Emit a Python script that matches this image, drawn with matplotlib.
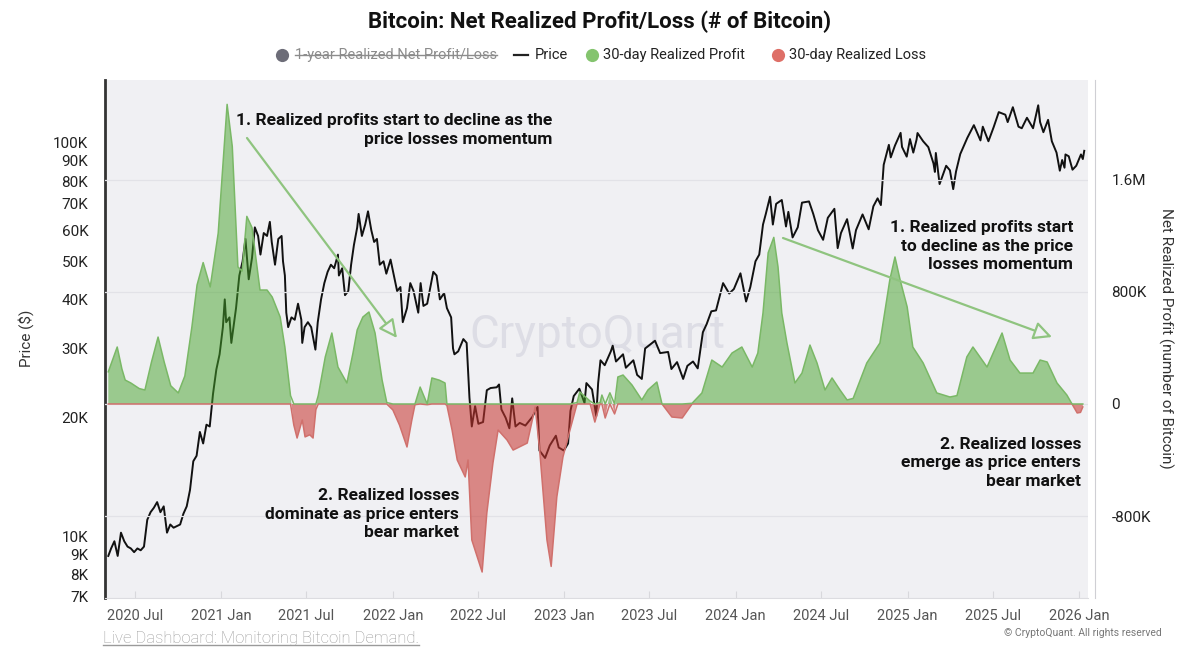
import numpy as np
import pandas as pd
import matplotlib
matplotlib.use("Agg")
import matplotlib.pyplot as plt
from matplotlib.lines import Line2D

plt.rcParams["font.family"] = ["Roboto", "DejaVu Sans"]

# ── Data ──────────────────────────────────────────────────────────────────────
price_dates = [
    "2020-05-05", "2020-05-11", "2020-05-18", "2020-05-25", "2020-06-01", "2020-06-08",
    "2020-06-15", "2020-06-22", "2020-06-29", "2020-07-06", "2020-07-13", "2020-07-20",
    "2020-07-27", "2020-08-03", "2020-08-10", "2020-08-17", "2020-08-24", "2020-08-31",
    "2020-09-07", "2020-09-14", "2020-09-21", "2020-09-28", "2020-10-05", "2020-10-12",
    "2020-10-19", "2020-10-26", "2020-11-02", "2020-11-09", "2020-11-16", "2020-11-23",
    "2020-11-30", "2020-12-07", "2020-12-14", "2020-12-21", "2020-12-28", "2021-01-04",
    "2021-01-08", "2021-01-11", "2021-01-18", "2021-01-22", "2021-01-25", "2021-02-01",
    "2021-02-08", "2021-02-15", "2021-02-21", "2021-02-28", "2021-03-07", "2021-03-13",
    "2021-03-20", "2021-03-25", "2021-04-01", "2021-04-08", "2021-04-14", "2021-04-18",
    "2021-04-25", "2021-05-02", "2021-05-09", "2021-05-12", "2021-05-16", "2021-05-19",
    "2021-05-23", "2021-05-30", "2021-06-06", "2021-06-13", "2021-06-20", "2021-06-22",
    "2021-06-27", "2021-07-04", "2021-07-11", "2021-07-20", "2021-07-25", "2021-08-01",
    "2021-08-08", "2021-08-15", "2021-08-22", "2021-08-29", "2021-09-06", "2021-09-08",
    "2021-09-15", "2021-09-21", "2021-09-28", "2021-10-04", "2021-10-10", "2021-10-17",
    "2021-10-20", "2021-10-27", "2021-11-03", "2021-11-09", "2021-11-16", "2021-11-22",
    "2021-11-28", "2021-12-04", "2021-12-12", "2021-12-18", "2021-12-27", "2022-01-03",
    "2022-01-10", "2022-01-17", "2022-01-22", "2022-01-31", "2022-02-07", "2022-02-14",
    "2022-02-24", "2022-03-01", "2022-03-07", "2022-03-15", "2022-03-28", "2022-04-04",
    "2022-04-11", "2022-04-20", "2022-04-26", "2022-05-05", "2022-05-09", "2022-05-12",
    "2022-05-20", "2022-05-31", "2022-06-07", "2022-06-13", "2022-06-18", "2022-06-25",
    "2022-07-02", "2022-07-12", "2022-07-20", "2022-07-28", "2022-08-10", "2022-08-15",
    "2022-08-20", "2022-08-29", "2022-09-06", "2022-09-12", "2022-09-19", "2022-09-28",
    "2022-10-10", "2022-10-25", "2022-11-05", "2022-11-09", "2022-11-21", "2022-12-01",
    "2022-12-14", "2022-12-20", "2022-12-31", "2023-01-09", "2023-01-14", "2023-01-21",
    "2023-02-02", "2023-02-13", "2023-02-17", "2023-03-01", "2023-03-10", "2023-03-14",
    "2023-03-19", "2023-03-28", "2023-04-10", "2023-04-14", "2023-04-21", "2023-05-06",
    "2023-05-12", "2023-05-28", "2023-06-05", "2023-06-15", "2023-06-22", "2023-07-13",
    "2023-07-24", "2023-08-10", "2023-08-17", "2023-08-29", "2023-09-11", "2023-09-20",
    "2023-10-02", "2023-10-12", "2023-10-23", "2023-10-31", "2023-11-10", "2023-11-20",
    "2023-12-05", "2023-12-18", "2023-12-28", "2024-01-11", "2024-01-23", "2024-02-01",
    "2024-02-12", "2024-02-20", "2024-02-28", "2024-03-05", "2024-03-14", "2024-03-20",
    "2024-03-27", "2024-04-08", "2024-04-17", "2024-04-22", "2024-05-01", "2024-05-12",
    "2024-05-21", "2024-06-05", "2024-06-14", "2024-06-24", "2024-07-05", "2024-07-15",
    "2024-07-29", "2024-08-05", "2024-08-12", "2024-08-25", "2024-09-06", "2024-09-13",
    "2024-09-27", "2024-10-10", "2024-10-20", "2024-10-29", "2024-11-05", "2024-11-11",
    "2024-11-22", "2024-11-26", "2024-12-05", "2024-12-17", "2024-12-20", "2024-12-30",
    "2025-01-06", "2025-01-13", "2025-01-20", "2025-01-22", "2025-02-03", "2025-02-14",
    "2025-02-25", "2025-02-28", "2025-03-02", "2025-03-10", "2025-03-24", "2025-04-01",
    "2025-04-08", "2025-04-14", "2025-04-23", "2025-05-08", "2025-05-22", "2025-06-05",
    "2025-06-10", "2025-06-22", "2025-07-03", "2025-07-14", "2025-07-28", "2025-08-02",
    "2025-08-13", "2025-08-25", "2025-09-01", "2025-09-12", "2025-09-25", "2025-10-06",
    "2025-10-10", "2025-10-17", "2025-10-27", "2025-11-04", "2025-11-14", "2025-11-21",
    "2025-11-26", "2025-12-01", "2025-12-03", "2025-12-10", "2025-12-18", "2025-12-26",
    "2026-01-05", "2026-01-09", "2026-01-12",
]
price_k = [
    8.9, 9.3, 9.7, 8.9, 10.2, 9.7,
    9.4, 9.3, 9.1, 9.3, 9.2, 9.4,
    11.0, 11.5, 11.8, 12.2, 11.5, 11.9,
    10.2, 10.7, 10.5, 10.6, 10.7, 11.4,
    11.9, 13.1, 15.5, 16.0, 18.4, 17.2,
    19.2, 19.0, 23.0, 26.5, 29.0, 34.0,
    40.0, 35.0, 36.0, 31.0, 33.0, 38.0,
    46.0, 50.0, 57.0, 45.0, 51.0, 61.0,
    58.0, 52.0, 59.0, 58.0, 63.0, 56.0,
    49.0, 57.0, 58.0, 50.0, 46.0, 37.0,
    34.0, 36.0, 35.5, 39.0, 35.5, 31.0,
    34.0, 35.0, 34.0, 29.8, 35.0, 40.0,
    44.0, 47.0, 49.0, 48.0, 52.0, 46.0,
    48.0, 41.0, 42.0, 49.0, 55.0, 61.0,
    66.0, 58.0, 62.0, 67.0, 60.0, 56.0,
    57.0, 49.0, 50.0, 46.5, 50.5, 46.0,
    42.0, 43.0, 35.0, 38.0, 44.0, 42.0,
    37.0, 44.0, 38.5, 39.0, 47.0, 46.0,
    40.0, 41.5, 38.0, 36.0, 30.0, 29.0,
    29.5, 31.7, 31.0, 22.5, 19.0, 21.4,
    19.3, 19.5, 23.5, 23.8, 23.9, 24.3,
    21.0, 20.0, 18.8, 22.4, 19.0, 19.4,
    19.1, 20.1, 21.3, 16.5, 15.8, 17.0,
    18.0, 16.8, 16.5, 17.2, 20.8, 22.7,
    23.7, 21.8, 24.5, 23.6, 20.2, 24.5,
    28.0, 27.2, 29.5, 30.5, 27.8, 29.0,
    26.8, 28.0, 25.7, 25.1, 30.0, 31.4,
    29.2, 29.4, 26.6, 27.7, 25.1, 27.1,
    27.8, 26.7, 33.0, 34.6, 37.3, 37.5,
    44.0, 41.4, 42.5, 46.6, 39.5, 43.0,
    50.0, 52.0, 62.0, 66.0, 73.0, 62.0,
    70.0, 71.6, 61.3, 66.8, 57.5, 61.0,
    70.5, 71.0, 66.0, 60.0, 56.7, 64.5,
    68.0, 54.0, 59.0, 64.0, 53.9, 60.0,
    65.8, 60.3, 69.0, 72.3, 69.5, 88.0,
    98.9, 91.9, 98.5, 106.1, 97.7, 92.3,
    102.3, 94.5, 102.0, 106.0, 101.0, 97.6,
    88.7, 84.4, 94.3, 78.6, 87.5, 85.2,
    76.3, 84.6, 93.7, 103.0, 111.0, 101.5,
    110.0, 101.0, 109.6, 119.8, 118.0, 113.0,
    123.3, 110.0, 109.0, 115.9, 109.0, 124.7,
    113.0, 106.5, 114.5, 101.0, 94.5, 85.0,
    90.5, 86.5, 93.5, 92.5, 85.5, 87.5,
    93.5, 91.0, 95.5,
]

# 30-day net realized profit (+) / loss (-), thousands of BTC
pnl_dates = [
    "2020-05-05", "2020-05-24", "2020-06-03", "2020-06-10", "2020-06-22", "2020-07-01",
    "2020-07-10", "2020-07-22", "2020-08-05", "2020-08-19", "2020-09-01", "2020-09-15",
    "2020-10-01", "2020-10-15", "2020-10-30", "2020-11-10", "2020-11-23", "2020-12-08",
    "2020-12-25", "2021-01-06", "2021-01-13", "2021-01-24", "2021-02-05", "2021-02-14",
    "2021-02-24", "2021-03-07", "2021-03-24", "2021-04-08", "2021-04-19", "2021-05-06",
    "2021-05-16", "2021-05-28", "2021-06-04", "2021-06-11", "2021-06-22", "2021-06-28",
    "2021-07-08", "2021-07-15", "2021-07-21", "2021-07-26", "2021-08-10", "2021-08-24",
    "2021-09-06", "2021-09-25", "2021-10-08", "2021-10-17", "2021-10-29", "2021-11-11",
    "2021-11-24", "2021-12-09", "2021-12-19", "2022-01-01", "2022-01-15", "2022-01-31",
    "2022-02-10", "2022-02-17", "2022-02-28", "2022-03-15", "2022-03-25", "2022-04-10",
    "2022-04-22", "2022-04-26", "2022-05-07", "2022-05-18", "2022-06-04", "2022-06-10",
    "2022-06-18", "2022-07-10", "2022-07-20", "2022-08-02", "2022-08-13", "2022-09-01",
    "2022-09-14", "2022-10-14", "2022-10-31", "2022-11-10", "2022-11-25", "2022-12-04",
    "2022-12-16", "2022-12-29", "2023-01-13", "2023-01-28", "2023-02-03", "2023-02-25",
    "2023-03-07", "2023-03-18", "2023-03-22", "2023-03-29", "2023-04-08", "2023-04-18",
    "2023-04-25", "2023-05-06", "2023-05-25", "2023-06-15", "2023-06-28", "2023-07-17",
    "2023-07-28", "2023-08-18", "2023-09-09", "2023-09-30", "2023-10-21", "2023-11-11",
    "2023-12-03", "2023-12-24", "2024-01-14", "2024-02-05", "2024-02-17", "2024-02-28",
    "2024-03-10", "2024-03-22", "2024-03-31", "2024-04-08", "2024-04-19", "2024-05-06",
    "2024-05-21", "2024-06-07", "2024-06-22", "2024-07-09", "2024-07-24", "2024-08-10",
    "2024-08-25", "2024-09-07", "2024-10-06", "2024-11-03", "2024-11-24", "2024-12-05",
    "2024-12-16", "2024-12-31", "2025-01-12", "2025-02-03", "2025-03-04", "2025-04-01",
    "2025-04-16", "2025-05-07", "2025-05-20", "2025-06-19", "2025-07-21", "2025-08-07",
    "2025-08-28", "2025-09-25", "2025-10-10", "2025-10-25", "2025-11-15", "2025-12-06",
    "2025-12-17", "2025-12-28", "2026-01-04", "2026-01-09",
]
pnl_k = [
    230, 407, 250, 171, 150, 130,
    110, 100, 300, 478, 300, 130,
    79, 200, 550, 850, 1010, 836,
    1220, 1800, 2140, 1840, 979, 950,
    1340, 1260, 814, 814, 764, 621,
    407, 60, -150, -243, -114, -235,
    -220, -243, -40, 60, 336, 507,
    264, 150, 364, 529, 621, 657,
    507, 171, 10, -43, -150, -307,
    -120, -5, 121, -5, 186, 170,
    150, -10, -186, -400, -521, -400,
    -971, -1200, -778, -421, -186, -257,
    -329, -279, -21, -350, -971, -1160,
    -664, -379, -186, 10, 86, 20,
    -129, 10, 64, -100, 80, -71,
    193, 207, 136, 29, 100, 157,
    0, -93, -100, 5, 79, 314,
    264, 364, 407, 264, 364, 650,
    1080, 1190, 979, 650, 436, 150,
    221, 421, 293, 100, 186, 100,
    29, 40, 293, 436, 886, 1050,
    886, 693, 407, 293, 79, 50,
    60, 336, 407, 264, 507, 314,
    221, 221, 314, 300, 150, 64,
    0, -64, -60, -21,
]

price_ticks = [7, 8, 9, 10, 20, 30, 40, 50, 60, 70, 80, 90, 100]
price_tick_labels = ["7K", "8K", "9K", "10K", "20K", "30K", "40K", "50K",
                     "60K", "70K", "80K", "90K", "100K"]
pnl_ticks = [-800, 0, 800, 1600]
pnl_tick_labels = ["-800K", "0", "800K", "1.6M"]
month_ticks = ["2020-07-01", "2021-01-01", "2021-07-01", "2022-01-01", "2022-07-01",
               "2023-01-01", "2023-07-01", "2024-01-01", "2024-07-01", "2025-01-01",
               "2025-07-01", "2026-01-01"]
month_tick_labels = ["2020 Jul", "2021 Jan", "2021 Jul", "2022 Jan", "2022 Jul",
                     "2023 Jan", "2023 Jul", "2024 Jan", "2024 Jul", "2025 Jan",
                     "2025 Jul", "2026 Jan"]

# ── Styling ──────────────────────────────────────────────────────────────────
BG = "#f0f0f3"
GREEN_FILL = "#46a42a"
GREEN_LINE = "#7ab866"
RED_FILL = "#c7352f"
RED_LINE = "#d0706c"
ARROW = "#8fc47f"

W, H = 1200, 664
fig = plt.figure(figsize=(W / 100, H / 100), dpi=100)
fig.patch.set_facecolor("white")

def fx(px):
    return px / W

def fy(py):
    return 1 - py / H

ax_l, ax_r, ax_t, ax_b = 105, 1088, 80, 597.5
ax = fig.add_axes([fx(ax_l), fy(ax_b), fx(ax_r - ax_l), (ax_b - ax_t) / H])
ax.set_facecolor(BG)
ax2 = ax.twinx()          # net realized profit/loss, drawn over the price line
ax2.patch.set_visible(False)

p_dates = pd.to_datetime(price_dates)
p_vals = np.array(price_k)
n_dates = pd.to_datetime(pnl_dates)
n_vals = np.array(pnl_k, dtype=float)

# price (left axis, log)
ax.text(0.5005, 0.507, "CryptoQuant", transform=ax.transAxes, ha="center",
        va="center", fontsize=33, color="#dddde5", zorder=1)
ax.plot(p_dates, p_vals, color="#111111", lw=1.4, zorder=3)
ax.set_yscale("log")
ax.set_ylim(6.977, 144.6)
ax.set_yticks(price_ticks)
ax.set_yticklabels(price_tick_labels)
ax.yaxis.set_minor_locator(plt.NullLocator())
ax.tick_params(axis="y", length=0, pad=12, labelsize=11, labelcolor="#222222")
ax.set_ylabel("Price ($)", fontsize=11, color="#333333", labelpad=14)

ax.set_xlim(pd.Timestamp("2020-04-28"), pd.Timestamp("2026-01-20"))
ax.set_xticks(pd.to_datetime(month_ticks))
ax.set_xticklabels(month_tick_labels)
ax.tick_params(axis="x", direction="in", length=5, color="#d8d8dc", pad=8,
               labelsize=10.5, labelcolor="#555555")
for s in ["top", "right"]:
    ax.spines[s].set_visible(False)
ax.spines["left"].set_color("#333333")
ax.spines["left"].set_linewidth(2)
ax.spines["bottom"].set_color("#dcdce0")

# net realized profit / loss areas (right axis), semi-transparent over the price
ax2.fill_between(n_dates, 0, n_vals, where=n_vals >= 0, interpolate=True,
                 color=GREEN_FILL, alpha=0.5, lw=0, zorder=2)
ax2.fill_between(n_dates, 0, n_vals, where=n_vals <= 0, interpolate=True,
                 color=RED_FILL, alpha=0.56, lw=0, zorder=2)
ax2.plot(n_dates, np.clip(n_vals, None, 0), color=RED_LINE, lw=1.1, zorder=3)
ax2.plot(n_dates, np.clip(n_vals, 0, None), color=GREEN_LINE, lw=1.1, zorder=4)

ax2.set_ylim(-1382, 2314)
ax2.set_yticks(pnl_ticks)
ax2.set_yticklabels(pnl_tick_labels)
ax2.yaxis.grid(True, color="#e2e2e7", lw=0.9, zorder=0)
ax2.set_axisbelow(True)
ax2.tick_params(axis="y", length=0, pad=12, labelsize=11, labelcolor="#222222")
ax2.set_ylabel("Net Realized Profit (number of Bitcoin)", rotation=-90,
               fontsize=11, color="#333333", labelpad=16)
for s in ["top", "left", "bottom"]:
    ax2.spines[s].set_visible(False)
ax2.spines["right"].set_position(("outward", 5))
ax2.spines["right"].set_color("#cfcfd4")

# ── Annotations ──────────────────────────────────────────────────────────────
def axfrac(px, py):
    return ((px - ax_l) / (ax_r - ax_l), (ax_b - py) / (ax_b - ax_t))

note_kw = dict(transform=ax2.transAxes, fontsize=12.5, fontweight="bold",
               color="#111111", ha="right", va="center", linespacing=1.3, zorder=6)
ax2.text(*axfrac(552, 130), "1. Realized profits start to decline as the\n"
         "price losses momentum", **note_kw)
ax2.text(*axfrac(459, 514), "2. Realized losses\ndominate as price enters\n"
         "bear market", **note_kw)
ax2.text(*axfrac(1073, 246), "1. Realized profits start\nto decline as the price\n"
         "losses momentum", **note_kw)
ax2.text(*axfrac(1081, 463), "2. Realized losses\nemerge as price enters\n"
         "bear market", **note_kw)

arrow_kw = dict(arrowstyle="-|>,head_length=1.1,head_width=0.55", lw=1.6,
                shrinkA=0, shrinkB=0)
for (x0, y0), (x1, y1) in [((247, 138), (397, 338)), ((783, 238), (1052, 337))]:
    ax2.annotate("", xy=axfrac(x1, y1), xytext=axfrac(x0, y0),
                 xycoords="axes fraction", textcoords="axes fraction",
                 arrowprops=dict(fc=BG, ec=ARROW, **arrow_kw), zorder=6)

# ── Title, legend, footer ────────────────────────────────────────────────────
fig.text(0.5, fy(22), "Bitcoin: Net Realized Profit/Loss (# of Bitcoin)",
         ha="center", va="center", fontsize=16, fontweight="bold", color="#111111")

leg_y = fy(55)
fig.add_artist(Line2D([fx(282)], [leg_y], marker="o", ms=9.5, color="#6d6d78",
                      mec="none", transform=fig.transFigure))
t_strike = fig.text(fx(295), leg_y, "1-year Realized Net Profit/Loss", ha="left",
                    va="center", fontsize=10.5, color="#8c8c8c")
fig.add_artist(Line2D([fx(514), fx(528)], [leg_y, leg_y], color="#222222", lw=1.6,
                      transform=fig.transFigure))
fig.text(fx(535), leg_y, "Price", ha="left", va="center", fontsize=10.5, color="#222222")
fig.add_artist(Line2D([fx(592)], [leg_y], marker="o", ms=9.5, color="#84c46e",
                      mec="none", transform=fig.transFigure))
fig.text(fx(603), leg_y, "30-day Realized Profit", ha="left", va="center",
         fontsize=10.5, color="#222222")
fig.add_artist(Line2D([fx(778)], [leg_y], marker="o", ms=9.5, color="#de6f67",
                      mec="none", transform=fig.transFigure))
fig.text(fx(789), leg_y, "30-day Realized Loss", ha="left", va="center",
         fontsize=10.5, color="#222222")

t_link = fig.text(fx(103), fy(638), "Live Dashboard: Monitoring Bitcoin Demand.",
                  ha="left", va="center", fontsize=12, color="#9a9a9a",
                  fontweight="light")
fig.text(fx(1162), fy(633), "© CryptoQuant. All rights reserved", ha="right",
         va="center", fontsize=7.5, color="#777777")

# strike-through and underline need the rendered text extents
fig.canvas.draw()
renderer = fig.canvas.get_renderer()
bb = t_strike.get_window_extent(renderer)
fig.add_artist(Line2D([bb.x0 / W, bb.x1 / W], [(bb.y0 + bb.y1) / 2 / H] * 2,
                      color="#8c8c8c", lw=1.0, transform=fig.transFigure))
bb = t_link.get_window_extent(renderer)
fig.add_artist(Line2D([bb.x0 / W, bb.x1 / W], [(bb.y0 + 1) / H] * 2,
                      color="#9a9a9a", lw=1.0, transform=fig.transFigure))

fig.savefig("out.png", dpi=100, facecolor="white")
